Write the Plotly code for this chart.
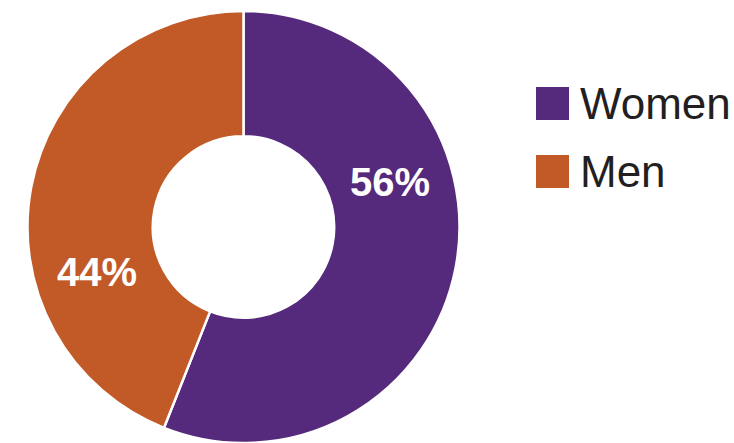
import plotly.graph_objects as go

labels = ["Women", "Men"]
values = [56, 44]
colors = ["#552A7C", "#C25A27"]

W, H = 734, 443
FONT = "Liberation Sans, Arial, Helvetica, sans-serif"

domain = dict(x=[27.5 / W, 459.5 / W], y=[0, 432 / H])

fig = go.Figure()
fig.add_trace(go.Pie(
    labels=labels, values=values, sort=False, direction="clockwise", rotation=0,
    hole=0.42, domain=domain,
    marker=dict(colors=colors, line=dict(color="white", width=2.5)),
    textinfo="none", hoverinfo="label+percent", showlegend=False,
))
# label layer: same data, labels placed slightly counter-clockwise like the reference
fig.add_trace(go.Pie(
    labels=labels, values=values, sort=False, direction="clockwise", rotation=-28,
    hole=0.42, domain=domain,
    marker=dict(colors=["rgba(0,0,0,0)"] * len(labels), line=dict(width=0)),
    textinfo="percent", textposition="inside", insidetextorientation="horizontal",
    textfont=dict(family=FONT, size=40, color="white", weight="bold"),
    hoverinfo="skip", showlegend=False,
))

# custom legend with large square swatches
shapes, annotations = [], []
top0, step, sw = 87, 68, 33
for i, (lab, col) in enumerate(zip(labels, colors)):
    t = top0 + i * step
    shapes.append(dict(type="rect", xref="paper", yref="paper",
                       x0=536 / W, x1=(536 + sw) / W,
                       y0=1 - (t + sw) / H, y1=1 - t / H,
                       fillcolor=col, line=dict(width=0)))
    annotations.append(dict(text=lab, xref="paper", yref="paper",
                            x=578 / W, y=1 - (t + sw / 2) / H,
                            xanchor="left", yanchor="middle", showarrow=False,
                            font=dict(family=FONT, size=44, color="#231F20")))

fig.update_layout(
    width=W, height=H, margin=dict(l=0, r=0, t=0, b=0),
    paper_bgcolor="white", plot_bgcolor="white",
    shapes=shapes, annotations=annotations, showlegend=False,
)
fig.write_html("out.html")
